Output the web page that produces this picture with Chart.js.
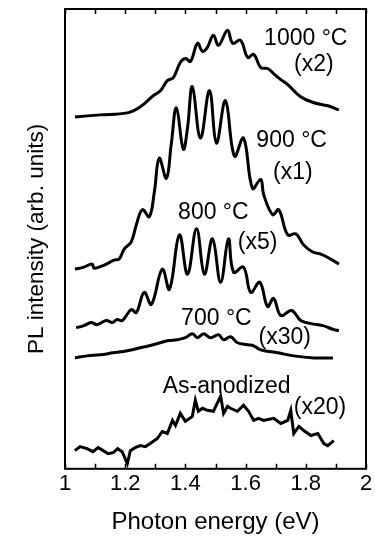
<!DOCTYPE html>
<html>
<head>
<meta charset="utf-8">
<script src="https://cdn.jsdelivr.net/npm/chart.js@4/dist/chart.umd.min.js"></script>
<style>
  html, body { margin: 0; padding: 0; background: #fff; }
  #wrap { width: 375px; height: 537px; }
</style>
</head>
<body>
<div id="wrap"><canvas id="c" width="375" height="537"></canvas></div>
<script>
// photon energy (eV) and PL intensity (arb., curves stacked with offsets)
const e1000 = [1.033, 1.117, 1.207, 1.25, 1.293, 1.317, 1.34, 1.36, 1.383, 1.40, 1.417, 1.44, 1.457, 1.473, 1.493, 1.51, 1.54, 1.557, 1.583, 1.607, 1.627, 1.65, 1.673, 1.693, 1.717, 1.74, 1.783, 1.827, 1.873, 1.91];
const i1000 = [349, 351, 353, 359, 370, 375, 385, 388, 403, 407, 404, 422, 414, 418, 430, 420, 435, 422, 425, 408, 411, 398, 397, 392, 386, 381, 369, 363, 360, 356];

const e900 = [1.033, 1.063, 1.09, 1.097, 1.13, 1.163, 1.18, 1.197, 1.22, 1.237, 1.257, 1.28, 1.297, 1.313, 1.337, 1.353, 1.37, 1.393, 1.407, 1.423, 1.45, 1.48, 1.503, 1.533, 1.563, 1.593, 1.623, 1.65, 1.66, 1.69, 1.71, 1.74, 1.767, 1.793, 1.823, 1.85, 1.883, 1.91];
const i900 = [198, 200, 203, 199, 202, 207, 208, 218, 225, 242, 257, 250, 275, 308, 288, 322, 358, 317, 338, 379, 328, 375, 323, 365, 310, 328, 278, 287, 272, 252, 257, 232, 233, 222, 215, 213, 208, 203];

const e800 = [1.037, 1.063, 1.087, 1.107, 1.137, 1.157, 1.173, 1.19, 1.22, 1.237, 1.263, 1.287, 1.323, 1.347, 1.38, 1.407, 1.437, 1.463, 1.49, 1.517, 1.543, 1.56, 1.593, 1.617, 1.647, 1.673, 1.693, 1.717, 1.753, 1.783, 1.817, 1.857, 1.893, 1.91];
const i800 = [140, 142, 145, 143, 147, 145, 148, 147, 158, 155, 175, 163, 198, 178, 232, 193, 238, 193, 228, 185, 228, 195, 200, 175, 185, 161, 169, 152, 157, 147, 144, 142, 138, 137];

const e700 = [1.033, 1.073, 1.117, 1.16, 1.207, 1.25, 1.293, 1.34, 1.373, 1.40, 1.423, 1.44, 1.46, 1.483, 1.51, 1.527, 1.55, 1.573, 1.607, 1.627, 1.65, 1.707, 1.76, 1.827, 1.89];
const i700 = [110, 112, 113, 115, 117, 120, 123, 127, 128, 130, 134, 130, 134, 130, 133, 128, 131, 125, 123, 122, 118, 115, 112, 110, 110];

const eAs = [1.033, 1.05, 1.073, 1.093, 1.11, 1.127, 1.143, 1.16, 1.175, 1.19, 1.207, 1.217, 1.233, 1.25, 1.267, 1.283, 1.307, 1.323, 1.34, 1.357, 1.367, 1.383, 1.40, 1.423, 1.433, 1.443, 1.457, 1.473, 1.493, 1.517, 1.527, 1.54, 1.55, 1.573, 1.593, 1.61, 1.627, 1.643, 1.66, 1.693, 1.717, 1.74, 1.75, 1.76, 1.777, 1.793, 1.817, 1.84, 1.86, 1.873, 1.893];
const iAs = [18, 22, 20, 17, 21, 18, 15, 16, 20, 17, 5, 18, 21, 23, 22, 25, 30, 37, 35, 48, 43, 55, 47, 52, 68, 57, 60, 58, 57, 72, 55, 62, 60, 57, 63, 57, 48, 50, 48, 50, 45, 48, 58, 35, 42, 38, 33, 35, 25, 23, 28];

const seriesE = [e1000, e900, e800, e700, eAs];
const seriesI = [i1000, i900, i800, i700, iAs];
const seriesNames = ['1000 °C', '900 °C', '800 °C', '700 °C', 'As-anodized'];

// curve annotations: text, energy, intensity
const noteText = ['1000 °C', '(x2)', '900 °C', '(x1)', '800 °C', '(x5)', '700 °C', '(x30)', 'As-anodized', '(x20)'];
const noteE = [1.80, 1.827, 1.753, 1.757, 1.493, 1.64, 1.503, 1.73, 1.537, 1.847];
const noteI = [427, 401, 325, 294, 254, 224, 149, 130, 81, 61];

const FONT = '"Liberation Sans", Arial, sans-serif';

const datasets = seriesE.map((es, k) => ({
  label: seriesNames[k],
  data: es.map((x, i) => ({ x: x, y: seriesI[k][i] })),
  borderColor: '#000',
  borderWidth: 3,
  pointRadius: 0,
  fill: false,
  tension: k === 4 ? 0 : 0.4
}));

// frame, inward ticks and curve labels
const framePlugin = {
  id: 'framePlugin',
  afterDraw(chart) {
    const ctx = chart.ctx;
    const a = chart.chartArea;
    const xs = chart.scales.x;
    const ys = chart.scales.y;
    ctx.save();
    ctx.strokeStyle = '#000';
    ctx.lineWidth = 2;
    ctx.strokeRect(a.left, a.top, a.right - a.left, a.bottom - a.top);
    ctx.lineWidth = 1.5;
    xs.ticks.forEach(t => {
      const px = Math.round(xs.getPixelForValue(t.value)) + 0.5;
      ctx.beginPath();
      ctx.moveTo(px, a.bottom);
      ctx.lineTo(px, a.bottom - 5);
      ctx.moveTo(px, a.top);
      ctx.lineTo(px, a.top + 5);
      ctx.stroke();
    });
    ctx.fillStyle = '#000';
    ctx.font = '23px ' + FONT;
    ctx.textAlign = 'center';
    ctx.textBaseline = 'middle';
    noteText.forEach((s, i) => {
      ctx.fillText(s, xs.getPixelForValue(noteE[i]), ys.getPixelForValue(noteI[i]));
    });
    ctx.restore();
  }
};

new Chart(document.getElementById('c'), {
  type: 'line',
  data: { datasets: datasets },
  options: {
    responsive: false,
    animation: false,
    layout: { padding: { top: 9, right: 9, left: 0, bottom: 0 } },
    plugins: { legend: { display: false }, tooltip: { enabled: false } },
    scales: {
      x: {
        type: 'linear',
        min: 1,
        max: 2,
        grid: { display: false, drawTicks: false },
        border: { display: false },
        ticks: {
          stepSize: 0.1,
          padding: 2,
          color: '#000',
          font: { family: FONT, size: 22 },
          maxRotation: 0,
          autoSkip: false,
          callback: v => {
            const n = Math.round(v * 10);
            return n % 2 === 0 ? String(n / 10) : '';
          }
        },
        title: {
          display: true,
          text: 'Photon energy (eV)',
          color: '#000',
          font: { family: FONT, size: 24 },
          padding: { top: 9, bottom: 0 }
        }
      },
      y: {
        min: 0,
        max: 456,
        grid: { display: false, drawTicks: false },
        border: { display: false },
        ticks: { display: false },
        title: {
          display: true,
          text: 'PL intensity (arb. units)',
          color: '#000',
          font: { family: FONT, size: 22.5 },
          padding: { top: 23, bottom: 15 }
        }
      }
    }
  },
  plugins: [framePlugin]
});
</script>
</body>
</html>
